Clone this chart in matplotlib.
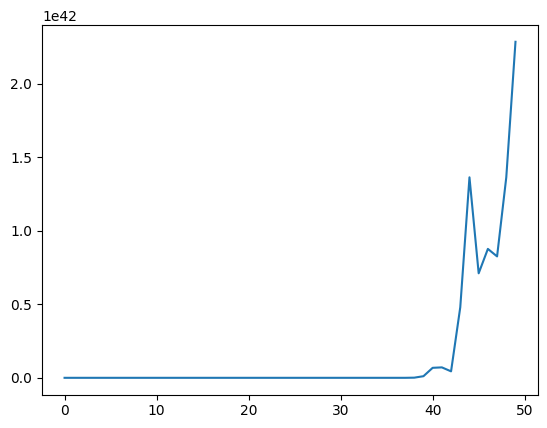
import matplotlib
matplotlib.use("Agg")
import matplotlib.pyplot as plt
import numpy as np

# values in units of 1e42
x = list(range(50))
y = [0.0] * 38 + [0.001, 0.011, 0.068, 0.071, 0.044, 0.480, 1.364, 0.711,
                  0.877, 0.826, 1.364, 2.286]

fig = plt.figure(figsize=(5.47, 4.28), dpi=100)
ax = fig.add_axes([0.0768, 0.078, 0.9068, 0.8636])

ax.plot(x, np.array(y) * 1e42)

fig.savefig("out.png", dpi=100)
